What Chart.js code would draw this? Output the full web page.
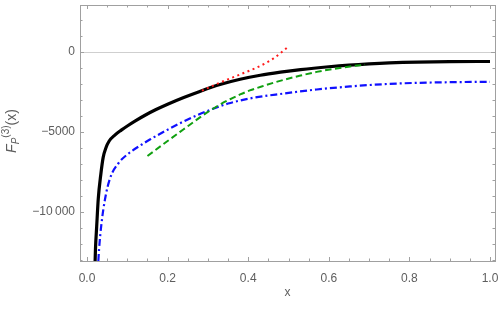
<!DOCTYPE html>
<html>
<head>
<meta charset="utf-8">
<script src="https://cdn.jsdelivr.net/npm/chart.js@4/dist/chart.umd.min.js"></script>
<style>
  body { margin: 0; background: #fff; }
  #wrap { width: 501px; height: 309px; }
</style>
</head>
<body>
<div id="wrap"><canvas id="chart" width="501" height="309"></canvas></div>
<script>
// values
const blackX = [0.019, 0.021, 0.024, 0.028, 0.034, 0.040, 0.047, 0.055, 0.069, 0.085, 0.10, 0.12, 0.144, 0.17, 0.20, 0.24, 0.28, 0.33, 0.38, 0.43, 0.48, 0.53, 0.60, 0.65, 0.70, 0.75, 0.82, 0.90, 1.0];
const blackY = [-14000, -12300, -10900, -9150, -7700, -6600, -5980, -5560, -5190, -4880, -4620, -4300, -3950, -3610, -3260, -2840, -2460, -2030, -1700, -1450, -1260, -1100, -920, -815, -735, -675, -625, -600, -590];

const redX = [0.285, 0.33, 0.38, 0.421, 0.445, 0.462, 0.479, 0.497];
const redY = [-2410, -1910, -1400, -970, -670, -415, -90, 290];

const greenX = [0.150, 0.20, 0.239, 0.276, 0.30, 0.33, 0.355, 0.38, 0.404, 0.44, 0.479, 0.53, 0.57, 0.61, 0.653, 0.69];
const greenY = [-6500, -5560, -4840, -4160, -3740, -3280, -2950, -2650, -2400, -2100, -1800, -1470, -1240, -1060, -900, -790];

const blueX = [0.026, 0.030, 0.036, 0.045, 0.057, 0.078, 0.10, 0.136, 0.156, 0.198, 0.239, 0.276, 0.313, 0.35, 0.404, 0.486, 0.57, 0.653, 0.735, 0.82, 0.90, 1.0];
const blueY = [-14000, -12300, -10700, -9150, -7900, -6950, -6400, -5780, -5470, -4880, -4350, -3920, -3540, -3220, -2900, -2600, -2340, -2150, -2010, -1925, -1885, -1860];

const xTicks = [0, 0.2, 0.4, 0.6, 0.8, 1.0];
const xTickLabels = ["0.0", "0.2", "0.4", "0.6", "0.8", "1.0"];
const yTicks = [0, -5000, -10000];
const yTickLabels = ["0", "\u22125000", "\u221210\u2009000"];

const pts = (xs, ys) => xs.map((x, i) => ({ x: x, y: ys[i] }));
const gray = "#5e5e5e";

// frame, inner ticks, zero line and the y label (Mathematica style)
const framePlugin = {
  id: "frame",
  beforeDatasetsDraw(chart) {
    const { ctx, chartArea: a, scales } = chart;
    const y0 = scales.y.getPixelForValue(0);
    ctx.save();
    ctx.strokeStyle = "#cfcfcf";
    ctx.lineWidth = 1;
    ctx.beginPath();
    ctx.moveTo(a.left, Math.round(y0) + 0.5);
    ctx.lineTo(a.right, Math.round(y0) + 0.5);
    ctx.stroke();
    ctx.restore();
  },
  afterDraw(chart) {
    const { ctx, chartArea: a, scales } = chart;
    ctx.save();
    ctx.strokeStyle = "#a0a0a0";
    ctx.lineWidth = 1;
    ctx.strokeRect(Math.round(a.left) + 0.5, Math.round(a.top) + 0.5, Math.round(a.right - a.left), Math.round(a.bottom - a.top));

    ctx.beginPath();
    for (let i = 0; i <= 20; i++) {
      const v = i * 0.05;
      const px = Math.round(scales.x.getPixelForValue(v)) + 0.5;
      const len = i % 4 === 0 ? 4 : 2.5;
      ctx.moveTo(px, a.bottom); ctx.lineTo(px, a.bottom - len);
      ctx.moveTo(px, a.top); ctx.lineTo(px, a.top + len);
    }
    for (let v = -13000; v <= 2000; v += 1000) {
      const py = Math.round(scales.y.getPixelForValue(v)) + 0.5;
      const len = v % 5000 === 0 ? 4 : 2.5;
      ctx.moveTo(a.left, py); ctx.lineTo(a.left + len, py);
      ctx.moveTo(a.right, py); ctx.lineTo(a.right - len, py);
    }
    ctx.stroke();

    // y axis label F_P^(3)(x)
    const parts = [
      { t: "F", f: "italic 14px 'Liberation Sans', Arial, sans-serif", dy: 0 },
      { t: "P", f: "italic 10px 'Liberation Sans', Arial, sans-serif", dy: 3 },
      { t: "(3)", f: "10px 'Liberation Sans', Arial, sans-serif", dy: -7 },
      { t: "(x)", f: "14px 'Liberation Sans', Arial, sans-serif", dy: 0 }
    ];
    let total = 0;
    parts.forEach(p => { ctx.font = p.f; p.w = ctx.measureText(p.t).width; total += p.w; });
    ctx.translate(16, 131);
    ctx.rotate(-Math.PI / 2);
    ctx.fillStyle = gray;
    ctx.textBaseline = "alphabetic";
    let cx = -total / 2;
    parts.forEach(p => { ctx.font = p.f; ctx.fillText(p.t, cx, p.dy); cx += p.w; });
    ctx.restore();
  }
};

// first dataset is painted last, so black (last) sits underneath the others
new Chart(document.getElementById("chart"), {
  type: "scatter",
  data: {
    datasets: [
      { data: pts(redX, redY), borderColor: "#ff1a1a", borderWidth: 2, borderDash: [2, 3.5] },
      { data: pts(greenX, greenY), borderColor: "#10a010", borderWidth: 2, borderDash: [6.5, 3.5] },
      { data: pts(blueX, blueY), borderColor: "#1010ff", borderWidth: 2.2, borderDash: [7, 3, 2, 3] },
      { data: pts(blackX, blackY), borderColor: "#000", borderWidth: 3.2 }
    ].map(d => Object.assign(d, {
      showLine: true, pointRadius: 0, fill: false, clip: 0,
      cubicInterpolationMode: "monotone"
    }))
  },
  options: {
    responsive: false,
    animation: false,
    events: [],
    layout: { padding: { top: 5, right: 6, left: 0, bottom: 0 } },
    plugins: { legend: { display: false }, tooltip: { enabled: false } },
    scales: {
      x: {
        type: "linear",
        min: -0.0174,
        max: 1.0124,
        grid: { display: false, drawTicks: false },
        border: { display: false },
        afterBuildTicks: s => { s.ticks = xTicks.map(v => ({ value: v })); },
        afterFit: s => { s.height = 48; s.paddingLeft = 0; s.paddingRight = 0; },
        ticks: {
          padding: 10,
          color: gray,
          maxRotation: 0,
          font: { family: "'Liberation Sans', Arial, sans-serif", size: 12 },
          callback: v => xTickLabels[xTicks.findIndex(t => Math.abs(t - v) < 1e-9)]
        },
        title: {
          display: true,
          text: "x",
          color: gray,
          padding: { top: 0, bottom: 9 },
          font: { family: "'Liberation Sans', Arial, sans-serif", size: 12 }
        }
      },
      y: {
        type: "linear",
        min: -13060,
        max: 2940,
        grid: { display: false, drawTicks: false },
        border: { display: false },
        afterBuildTicks: s => { s.ticks = yTicks.map(v => ({ value: v })); },
        afterFit: s => { s.width = 80; s.paddingTop = 0; s.paddingBottom = 0; },
        ticks: {
          padding: 5,
          color: gray,
          font: { family: "'Liberation Sans', Arial, sans-serif", size: 12 },
          callback: v => yTickLabels[yTicks.indexOf(v)]
        }
      }
    }
  },
  plugins: [framePlugin]
});
</script>
</body>
</html>
